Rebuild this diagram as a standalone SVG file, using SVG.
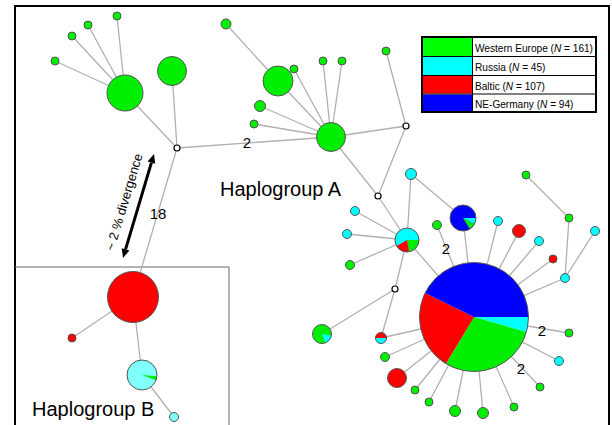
<svg xmlns="http://www.w3.org/2000/svg" width="612" height="425" viewBox="0 0 612 425">
<style>
.e{stroke:#b0b0b0;stroke-width:1.3;fill:none}
.n{stroke:#555;stroke-width:1}
.g{fill:#00ee00}.c{fill:#00ffff}.r{fill:#ff0000}.b{fill:#0000ff}.lc{fill:#80ffff}.w{fill:#fff;stroke:#000;stroke-width:1.2}
.o{fill:none;stroke:#555;stroke-width:1}
.t{font-family:"Liberation Sans",Arial,sans-serif;fill:#000}
.lbl{font-size:15px;text-anchor:middle}
.hg{font-size:20px}
.lg{font-size:10.1px}
</style>
<rect width="612" height="425" fill="#fff"/>
<rect x="15" y="6" width="594" height="450" fill="none" stroke="#000" stroke-width="2"/>
<path d="M15 267 H229 V425" fill="none" stroke="#666" stroke-width="1"/>
<g id="connectors">
<path class="e" d="M55 61L125 93M72 36L125 93M88 25L125 93M117 16L125 93M125 93L177 148M172 71L177 148M177 148L331 137M177 148L133 297"/>
<path class="e" d="M226 24L278 81M278 81L331 137M294 69L331 137M260 106L331 137M254 124L331 137M323 61L331 137M342 61L331 137M331 137L406 126M386 51L406 126M406 126L378 196M331 137L378 196M378 196L407 240"/>
<path class="e" d="M411 174L407 240M411 174L463 218M355 211L407 240M347 234L407 240M350 265L407 240M407 240L474 317M407 240L395 289M437 225L474 317M395 289L322 334M395 289L381 338M381 338L474 317"/>
<path class="e" d="M385 357L474 317M397 378L474 317M415 390L474 317M429 402L474 317M455 411L474 317M483 413L474 317M514 407L474 317M540 387L474 317M559 361L474 317M569 333L474 317M565 278L474 317M553 259L474 317M539 241L474 317M519 231L474 317M498 221L474 317M463 218L474 317M526 175L569 218M569 218L565 278M595 231L565 278"/>
<path class="e" d="M133 297L72 338M133 297L142 375M142 375L174 417"/>
</g>
<g id="divergence">
<line x1="151.43" y1="162.63" x2="125.57" y2="249.37" stroke="#000" stroke-width="3"/>
<polygon points="154,154 155.26,163.77 147.6,161.49" fill="#000"/>
<polygon points="123,258 129.4,250.51 121.74,248.23" fill="#000"/>
<text class="t" font-size="13" text-anchor="middle" transform="translate(124,202) rotate(-73.4)" x="0" y="4.5">~ 2 % divergence</text>
</g>
<g id="labels">
<text class="t lbl" x="247" y="148">2</text>
<text class="t lbl" x="158" y="219">18</text>
<text class="t lbl" x="446" y="254">2</text>
<text class="t lbl" x="542" y="336">2</text>
<text class="t lbl" x="521" y="374">2</text>
<text class="t hg" x="220" y="196">Haplogroup A</text>
<text class="t hg" x="32" y="416">Haplogroup B</text>
</g>
<g id="nodes-top-left">
<circle id="n1" class="n g" cx="55" cy="61" r="4"/>
<circle id="n2" class="n g" cx="72" cy="36" r="4"/>
<circle id="n3" class="n g" cx="88" cy="25" r="4"/>
<circle id="n4" class="n g" cx="117" cy="16" r="4"/>
<circle id="n5" class="n g" cx="125" cy="93" r="18"/>
<circle id="n6" class="n g" cx="172" cy="71" r="14.5"/>
<circle id="w1" class="w" cx="177" cy="148" r="3"/>
</g>
<g id="nodes-top-mid">
<circle id="n7" class="n g" cx="226" cy="24" r="5"/>
<circle id="n8" class="n g" cx="278" cy="81" r="15"/>
<circle id="n9" class="n g" cx="294" cy="69" r="4"/>
<circle id="n10" class="n g" cx="260" cy="106" r="5.5"/>
<circle id="n11" class="n g" cx="254" cy="124" r="4"/>
<circle id="n12" class="n g" cx="323" cy="61" r="4"/>
<circle id="n13" class="n g" cx="342" cy="61" r="4"/>
<circle id="n14" class="n g" cx="386" cy="51" r="4"/>
<circle id="a2" class="n g" cx="331" cy="137" r="14.5"/>
<circle id="w2" class="w" cx="406" cy="126" r="3"/>
<circle id="w3" class="w" cx="378" cy="196" r="3"/>
</g>
<g id="c1">
<circle class="c" cx="407" cy="240" r="12"/>
<path class="g" d="M407 240L419 240A12 12 0 0 1 409.08 251.82Z"/>
<path class="r" d="M407 240L409.08 251.82A12 12 0 0 1 396.61 246Z"/>
<circle class="o" cx="407" cy="240" r="12"/>
</g>
<g id="nodes-mid">
<circle id="n15" class="n c" cx="411" cy="174" r="5.5"/>
<circle id="n16" class="n c" cx="355" cy="211" r="4.5"/>
<circle id="n17" class="n c" cx="347" cy="234" r="4.5"/>
<circle id="n18" class="n g" cx="350" cy="265" r="4.5"/>
<circle id="n19" class="n g" cx="437" cy="225" r="4.5"/>
<circle id="w4" class="w" cx="395" cy="289" r="3"/>
</g>
<g id="g1">
<circle class="g" cx="322" cy="334" r="9.5"/>
<path class="c" d="M322 334L331.36 335.65A9.5 9.5 0 0 1 325.25 342.93Z"/>
<circle class="o" cx="322" cy="334" r="9.5"/>
</g>
<g id="rc1">
<circle class="c" cx="381" cy="338" r="5.5"/>
<path class="r" d="M375.5 338A5.5 5.5 0 0 1 386.5 338Z"/>
<circle class="o" cx="381" cy="338" r="5.5"/>
</g>
<g id="bp1">
<circle class="b" cx="463" cy="218" r="13"/>
<path class="c" d="M463 218L476 218A13 13 0 0 1 474.48 224.1Z"/>
<path class="g" d="M463 218L474.48 224.1A13 13 0 0 1 469.89 229.02Z"/>
<circle class="o" cx="463" cy="218" r="13"/>
</g>
<g id="big">
<path class="c" d="M474 317L528.5 317A54.5 54.5 0 0 1 526.39 332.02Z"/>
<path class="g" d="M474 317L526.39 332.02A54.5 54.5 0 0 1 445.93 363.72Z"/>
<path class="r" d="M474 317L445.93 363.72A54.5 54.5 0 0 1 425.02 293.11Z"/>
<path class="b" d="M474 317L425.02 293.11A54.5 54.5 0 0 1 528.5 317Z"/>
<circle class="o" cx="474" cy="317" r="54.5"/>
</g>
<g id="nodes-right">
<circle id="n20" class="n g" cx="385" cy="357" r="4.5"/>
<circle id="n21" class="n r" cx="397" cy="378" r="9.5"/>
<circle id="n22" class="n g" cx="415" cy="390" r="4"/>
<circle id="n23" class="n g" cx="429" cy="402" r="4"/>
<circle id="n24" class="n g" cx="455" cy="411" r="5.5"/>
<circle id="n25" class="n g" cx="483" cy="413" r="5.5"/>
<circle id="n26" class="n g" cx="514" cy="407" r="4"/>
<circle id="n27" class="n g" cx="540" cy="387" r="4"/>
<circle id="n28" class="n c" cx="559" cy="361" r="4.5"/>
<circle id="n29" class="n g" cx="569" cy="333" r="4"/>
<circle id="n30" class="n c" cx="565" cy="278" r="4.5"/>
<circle id="n31" class="n r" cx="553" cy="259" r="4"/>
<circle id="n32" class="n c" cx="539" cy="241" r="4.5"/>
<circle id="n33" class="n r" cx="519" cy="231" r="6.5"/>
<circle id="n34" class="n c" cx="498" cy="221" r="4.5"/>
<circle id="n35" class="n g" cx="526" cy="175" r="4"/>
<circle id="n36" class="n g" cx="569" cy="218" r="4"/>
<circle id="n37" class="n c" cx="595" cy="231" r="4.5"/>
</g>
<g id="nodes-b">
<circle id="b1" class="n r" cx="133" cy="297" r="25.5"/>
<circle id="b3" class="n r" cx="72" cy="338" r="4"/>
<circle id="b4" class="n lc" cx="174" cy="417" r="4.5"/>
</g>
<g id="b2">
<circle class="lc" cx="142" cy="375" r="15"/>
<path class="g" d="M142 375L156.94 376.31A15 15 0 0 1 156.1 380.13Z"/>
<circle class="o" cx="142" cy="375" r="15"/>
</g>
<g id="legend">
<rect x="422" y="37" width="174" height="75" fill="#fff" stroke="#000" stroke-width="2"/>
<rect x="423" y="38" width="49" height="18" fill="#00ff00"/>
<rect x="423" y="57" width="49" height="18" fill="#00ffff"/>
<rect x="423" y="76" width="49" height="17.5" fill="#ff0000"/>
<rect x="423" y="94.5" width="49" height="16.5" fill="#0000ff"/>
<path d="M422 56.5H596M422 75.5H596M422 94H596M472.5 37V112" stroke="#000" stroke-width="1"/>
<text class="t lg" x="475" y="52" textLength="118" lengthAdjust="spacingAndGlyphs">Western Europe (<tspan font-style="italic">N</tspan> = 161)</text>
<text class="t lg" x="475" y="71">Russia (<tspan font-style="italic">N</tspan> = 45)</text>
<text class="t lg" x="475" y="89.5">Baltic (<tspan font-style="italic">N</tspan> = 107)</text>
<text class="t lg" x="475" y="108">NE-Germany (<tspan font-style="italic">N</tspan> = 94)</text>
</g>
</svg>
